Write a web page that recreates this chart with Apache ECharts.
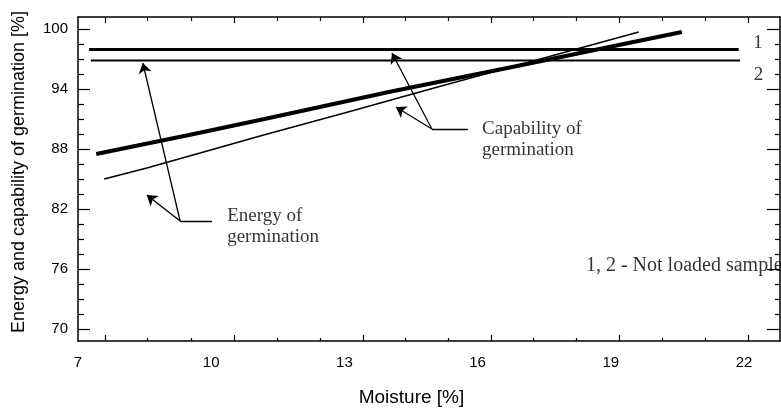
<!DOCTYPE html>
<html>
<head>
<meta charset="utf-8">
<script src="https://cdn.jsdelivr.net/npm/echarts@6/dist/echarts.min.js"></script>
<style>
  html, body { margin: 0; padding: 0; background: #fff; }
  #chart { width: 781px; height: 412px; }
</style>
</head>
<body>
<div id="chart"></div>
<script>
// axis labels / ticks
const xLabels = [7, 10, 13, 16, 19, 22];
const xMajorTicks = [7.61, 10.51, 13.42, 16.30, 19.18, 22.09];
const xMinorTicks = [8.57, 9.54, 11.48, 12.45, 14.38, 15.34, 17.26, 18.22, 20.15, 21.12];
const yLabels = [70, 76, 82, 88, 94, 100];
const yMinorTicks = [71.5, 73, 74.5, 77.5, 79, 80.5, 83.5, 85, 86.5, 89.5, 91, 92.5, 95.5, 97, 98.5];

// loaded samples (sloped lines)
const thickMoisture = [7.41, 9.5, 11.2, 14.0, 17.0, 20.6];
const thickValues = [87.5, 89.4, 91.0, 93.7, 96.4, 99.7];
const thinMoisture = [7.59, 8.55, 9.75, 11.1, 13.0, 15.1, 17.0, 19.63];
const thinValues = [85.0, 86.1, 87.6, 89.3, 91.6, 94.2, 96.5, 99.7];

// not loaded samples 1, 2 (horizontal lines)
const sample1Moisture = [7.25, 21.88];
const sample1Values = [97.95, 97.95];
const sample2Moisture = [7.29, 21.91];
const sample2Values = [96.85, 96.85];

// annotation arrows (data coords)
const arrowLines = [
  [[14.97, 90.0], [14.07, 97.6]],
  [[14.97, 90.0], [14.16, 92.2]],
  [[9.30, 80.8], [8.46, 96.6]],
  [[9.30, 80.8], [8.55, 83.4]]
];
const leaderLines = [
  [[14.97, 90.0], [15.78, 90.0]],
  [[9.30, 80.8], [10.02, 80.8]]
];
const noteTexts = ['Capability of\ngermination', 'Energy of\ngermination', '1', '2', '1, 2 - Not loaded sample'];
const notePos = [[16.10, 88.95], [10.36, 80.25], [22.21, 98.6], [22.22, 95.4], [18.44, 76.3]];

const zip = (xs, ys) => xs.map((x, i) => [x, ys[i]]);

const chartDom = document.getElementById('chart');
let myChart = echarts.init(chartDom);

const XMIN = 7, XMAX = 22.81, YMIN = 68.8, YMAX = 101.2;
const axisLineStyle = { color: '#000', width: 1.5 };
const sansFont = '"Liberation Sans", Arial, sans-serif';
const serifFont = '"Liberation Serif", "Times New Roman", serif';

function xAx(position, ticks, len, withLabels, showLine) {
  return {
    type: 'value', position: position, min: XMIN, max: XMAX,
    axisLine: { show: showLine, onZero: false, lineStyle: axisLineStyle },
    axisTick: { show: true, inside: true, length: len, customValues: ticks, lineStyle: { color: '#000', width: 1.2 } },
    axisLabel: withLabels ? { show: true, customValues: xLabels, margin: 14, color: '#000', fontSize: 15, fontFamily: sansFont } : { show: false },
    splitLine: { show: false }
  };
}
function yAx(position, ticks, len, withLabels, showLine) {
  return {
    type: 'value', position: position, min: YMIN, max: YMAX,
    axisLine: { show: showLine, onZero: false, lineStyle: axisLineStyle },
    axisTick: { show: true, inside: true, length: len, customValues: ticks, lineStyle: { color: '#000', width: 1.2 } },
    axisLabel: withLabels ? { show: true, customValues: yLabels, margin: 10, color: '#000', fontSize: 15, fontFamily: sansFont } : { show: false },
    splitLine: { show: false }
  };
}

let xAxes = [
  xAx('bottom', xMajorTicks, 6, true, true),
  xAx('bottom', xMinorTicks, 3, false, false),
  xAx('top', xMajorTicks, 6, false, true),
  xAx('top', xMinorTicks, 4, false, false)
];
xAxes[0].name = 'Moisture [%]';
xAxes[0].nameLocation = 'middle';
xAxes[0].nameGap = 47;
xAxes[0].nameTextStyle = { color: '#000', fontSize: 19, fontFamily: sansFont, padding: [0, 35, 0, 0] };

let yAxes = [
  yAx('left', yLabels, 12, true, true),
  yAx('left', yMinorTicks, 6, false, false),
  yAx('right', yLabels, 13, false, true),
  yAx('right', yMinorTicks, 5, false, false)
];
yAxes[0].name = 'Energy and capability of germination [%]';
yAxes[0].nameLocation = 'middle';
yAxes[0].nameGap = 50;
yAxes[0].nameTextStyle = { color: '#000', fontSize: 18, fontFamily: sansFont, padding: [0, 0, 0, 14] };

function lineSeries(name, xs, ys, width) {
  return {
    name: name, type: 'line', data: zip(xs, ys),
    showSymbol: false, symbol: 'none', smooth: false,
    lineStyle: { color: '#000', width: width }, z: 3
  };
}

let option = {
  animation: false,
  backgroundColor: '#fff',
  grid: { left: 78, right: 1, top: 17, bottom: 71, containLabel: false },
  xAxis: xAxes,
  yAxis: yAxes,
  series: [
    lineSeries('Sample 1', sample1Moisture, sample1Values, 3.2),
    lineSeries('Sample 2', sample2Moisture, sample2Values, 1.8),
    lineSeries('Loaded (thick)', thickMoisture, thickValues, 4.2),
    lineSeries('Loaded (thin)', thinMoisture, thinValues, 1.6),
    {
      type: 'lines', coordinateSystem: 'cartesian2d',
      data: arrowLines.map(c => ({ coords: c })),
      symbol: ['none', 'arrow'], symbolSize: [1, 10],
      lineStyle: { color: '#000', width: 1.3, opacity: 1, curveness: 0 }, z: 4
    },
    {
      type: 'lines', coordinateSystem: 'cartesian2d',
      data: leaderLines.map(c => ({ coords: c })),
      symbol: 'none',
      lineStyle: { color: '#000', width: 1.3, opacity: 1 }, z: 4
    },
    {
      type: 'scatter', symbolSize: 0, silent: true,
      data: notePos.map((p, i) => ({
        value: p,
        label: { formatter: noteTexts[i], fontSize: i === 4 ? 20 : 19 }
      })),
      label: {
        show: true, position: 'right', distance: 0, align: 'left',
        color: '#000', fontSize: 19, lineHeight: 21, fontFamily: serifFont
      }, z: 5
    }
  ]
};
option && myChart.setOption(option);
</script>
</body>
</html>
